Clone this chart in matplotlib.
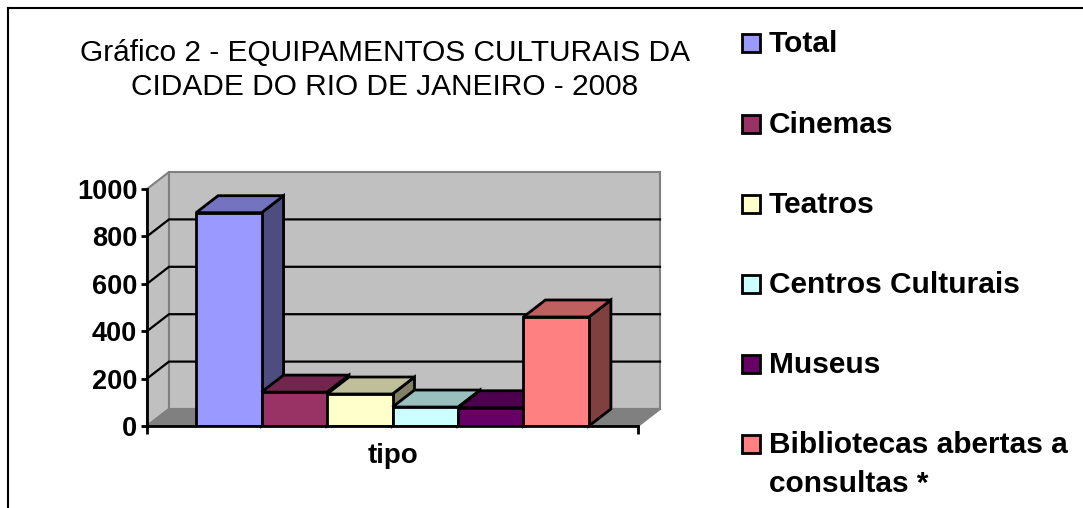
import matplotlib
matplotlib.use("Agg")
import matplotlib.pyplot as plt
from matplotlib.patches import Polygon, Rectangle
from matplotlib.lines import Line2D
from matplotlib.colors import to_rgb

plt.rcParams['font.family'] = ['Liberation Sans', 'DejaVu Sans']

# data
series = ['Total', 'Cinemas', 'Teatros', 'Centros Culturais', 'Museus',
          'Bibliotecas abertas a\nconsultas *']
values = [900, 143, 135, 80, 77, 460]
colors = ['#9999FF', '#993366', '#FFFFCC', '#CCFFFF', '#660066', '#FF8080']
category = 'tipo'
yticks = [0, 200, 400, 600, 800, 1000]
title = 'Gráfico 2 - EQUIPAMENTOS CULTURAIS DA\nCIDADE DO RIO DE JANEIRO - 2008'

W, H = 1083, 508
fig = plt.figure(figsize=(W / 100, H / 100), dpi=100)

# front plane of the 3d plot, in pixels
left, right, bottom, top = 147, 638, 426, 189
ax = fig.add_axes([left / W, 1 - bottom / H, (right - left) / W, (bottom - top) / H])
xl, xr = -1.25, len(values) + 0.25
ax.set_xlim(xl, xr)
ax.set_ylim(0, 1000)

# depth of the box, 22px right and 17px up
dx = 22 * (xr - xl) / (right - left)
dy = 17 * 1000 / (bottom - top)

def poly(pts, fc, ec, lw=1.5, z=1):
    ax.add_patch(Polygon(pts, closed=True, facecolor=fc, edgecolor=ec,
                         linewidth=lw, zorder=z, clip_on=False, joinstyle='miter'))

# walls and floor
wall = '#C0C0C0'
poly([(xl, 0), (xl + dx, dy), (xl + dx, 1000 + dy), (xl, 1000)], wall, '#808080', z=0.5)
poly([(xl + dx, dy), (xr + dx, dy), (xr + dx, 1000 + dy), (xl + dx, 1000 + dy)], wall, '#808080', z=0.5)
poly([(xl, 0), (xr, 0), (xr + dx, dy), (xl + dx, dy)], '#808080', '#808080', z=0.6)

# gridlines on side and back wall
for v in yticks[1:-1]:
    ax.plot([xl, xl + dx, xr + dx], [v, v + dy, v + dy], color='black', lw=1.6,
            zorder=0.8, clip_on=False, solid_joinstyle='miter')

# bars, drawn left to right so later ones hide earlier sides
for i, (v, c) in enumerate(zip(values, colors)):
    r, g, b = to_rgb(c)
    top_c = (r * 0.75, g * 0.75, b * 0.75)
    side_c = (r * 0.5, g * 0.5, b * 0.5)
    x0, x1 = i - 0.5, i + 0.5
    z = 2 + i
    poly([(x1, 0), (x1 + dx, dy), (x1 + dx, v + dy), (x1, v)], side_c, 'black', 2, z)
    poly([(x0, v), (x1, v), (x1 + dx, v + dy), (x0 + dx, v + dy)], top_c, 'black', 2, z)
    ax.bar(i, v, width=1.0, color=c, edgecolor='black', linewidth=2, zorder=z + 0.5)

# axes lines
for s in ['top', 'right']:
    ax.spines[s].set_visible(False)
ax.spines['left'].set_linewidth(2)
ax.spines['bottom'].set_linewidth(2)
ax.spines['left'].set_zorder(20)
ax.spines['bottom'].set_zorder(20)
ax.set_facecolor('none')
ax.set_yticks(yticks)
ax.set_yticklabels([str(t) for t in yticks], fontsize=19.5, fontweight='bold')
ax.tick_params(axis='y', length=4, width=2, pad=3)
ax.set_xticks([xl, xr])
ax.set_xticklabels(['', ''])
ax.tick_params(axis='x', length=6, width=2)
ax.set_xlabel(category, fontsize=20, fontweight='bold', labelpad=3)

# title
fig.text(385 / W, 1 - 70 / H, title, ha='center', va='center', fontsize=21.5,
         linespacing=1.28)

# legend
ly = [43, 124, 204, 284, 364, 444]
for name, c, y in zip(series, colors, ly):
    fig.add_artist(Rectangle((742 / W, 1 - (y + 9) / H), 18 / W, 18 / H,
                             facecolor=c, edgecolor='black', linewidth=2,
                             transform=fig.transFigure))
    if '\n' in name:
        fig.text(769 / W, 1 - (y - 13) / H, name, ha='left', va='top',
                 fontsize=21.5, fontweight='bold', linespacing=1.52)
    else:
        fig.text(769 / W, 1 - (y + 1) / H, name, ha='left', va='center',
                 fontsize=21.5, fontweight='bold')

# outer frame, only top and left edges fall inside the image
fig.add_artist(Line2D([8 / W, 1], [1 - 8 / H, 1 - 8 / H], color='black', lw=1.5,
                      transform=fig.transFigure))
fig.add_artist(Line2D([8 / W, 8 / W], [0, 1 - 8 / H], color='black', lw=1.5,
                      transform=fig.transFigure))

fig.savefig('out.png', dpi=100)
